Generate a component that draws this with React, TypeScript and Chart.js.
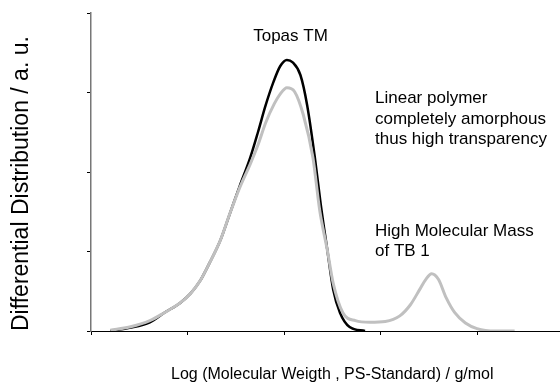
import React, { useEffect, useRef } from "react";
import { Chart, registerables } from "chart.js";

Chart.register(...registerables);

// Topas TM (black) curve
const blackX = [0.20, 0.40, 0.61, 0.76, 0.92, 1.03, 1.13, 1.23, 1.34, 1.44, 1.54, 1.65, 1.73, 1.81, 1.89, 1.96, 2.03, 2.09, 2.17, 2.24, 2.32, 2.38, 2.45, 2.51, 2.58, 2.68, 2.84];
const blackY = [0.00, 0.04, 0.11, 0.23, 0.35, 0.47, 0.63, 0.86, 1.14, 1.48, 1.82, 2.18, 2.50, 2.84, 3.13, 3.33, 3.41, 3.38, 3.22, 2.84, 2.18, 1.60, 1.01, 0.52, 0.23, 0.05, 0.00];

// TB 1 (grey) curve
const greyX = [0.20, 0.40, 0.61, 0.76, 0.92, 1.03, 1.13, 1.23, 1.34, 1.44, 1.54, 1.65, 1.73, 1.81, 1.90, 1.96, 2.03, 2.11, 2.20, 2.30, 2.37, 2.45, 2.51, 2.61, 2.74, 2.89, 3.05, 3.20, 3.31, 3.41, 3.47, 3.53, 3.60, 3.68, 3.77, 3.88, 4.00, 4.19, 4.39];
const greyY = [0.01, 0.05, 0.13, 0.23, 0.35, 0.47, 0.63, 0.86, 1.14, 1.48, 1.80, 2.10, 2.34, 2.62, 2.86, 2.98, 3.06, 3.01, 2.72, 2.18, 1.52, 1.01, 0.60, 0.23, 0.13, 0.11, 0.12, 0.19, 0.33, 0.53, 0.65, 0.72, 0.65, 0.42, 0.23, 0.10, 0.03, 0.00, 0.00];

const xTitle = "Log (Molecular Weigth , PS-Standard) / g/mol";
const yTitle = "Differential Distribution / a. u.";
const noteTopas = ["Topas TM"];
const noteLinear = ["Linear polymer", "completely amorphous", "thus high transparency"];
const noteHigh = ["High Molecular Mass", "of TB 1"];

const FONT = '"Liberation Sans", Arial, Helvetica, sans-serif';

const toPoints = (xs: number[], ys: number[]) => xs.map((x, i) => ({ x, y: ys[i] }));

const notesPlugin = {
  id: "notes",
  afterDraw(chart: any) {
    const ctx = chart.ctx;
    ctx.save();
    ctx.fillStyle = "#000";
    ctx.font = `17px ${FONT}`;
    ctx.textBaseline = "alphabetic";
    ctx.textAlign = "center";
    noteTopas.forEach((t, i) => ctx.fillText(t, 290.5, 41 + i * 20.5));
    ctx.textAlign = "left";
    noteLinear.forEach((t, i) => ctx.fillText(t, 375, 103 + i * 20.5));
    noteHigh.forEach((t, i) => ctx.fillText(t, 375, 236 + i * 20));
    ctx.restore();
  },
};

export default function App() {
  const ref = useRef<HTMLCanvasElement>(null);
  useEffect(() => {
    if (!ref.current) return;
    const chart = new Chart(ref.current, {
      type: "line",
      data: {
        datasets: [
          {
            label: "TB 1",
            data: toPoints(greyX, greyY),
            borderColor: "#c0c0c0",
            borderWidth: 3,
            pointRadius: 0,
            cubicInterpolationMode: "monotone",
            fill: false,
          },
          {
            label: "Topas TM",
            data: toPoints(blackX, blackY),
            borderColor: "#000",
            borderWidth: 2.5,
            pointRadius: 0,
            cubicInterpolationMode: "monotone",
            fill: false,
          },
        ],
      },
      options: {
        responsive: false,
        animation: false,
        layout: { padding: { top: 13, right: 2.5, left: 0, bottom: 0 } },
        plugins: { legend: { display: false }, tooltip: { enabled: false } },
        scales: {
          x: {
            type: "linear",
            min: 0,
            max: 5,
            ticks: { display: false, stepSize: 1 },
            grid: { drawOnChartArea: false, tickLength: 4, color: "#000" },
            border: { color: "#000", width: 1 },
            title: {
              display: true,
              text: xTitle,
              color: "#000",
              font: { family: FONT, size: 16, lineHeight: 1.2 },
              padding: { top: 29.8, bottom: 8 },
            },
          },
          y: {
            type: "linear",
            min: 0,
            max: 4,
            ticks: { display: false, stepSize: 1 },
            grid: { drawOnChartArea: false, tickLength: 4, color: "#000" },
            border: { color: "#777", width: 1.5 },
            title: {
              display: true,
              text: yTitle,
              align: "start",
              color: "#000",
              font: { family: FONT, size: 23, lineHeight: 1.2 },
              padding: { top: 8, bottom: 51.4 },
            },
          },
        },
      },
      plugins: [notesPlugin],
    });
    return () => chart.destroy();
  }, []);
  return (
    <div style={{ position: "absolute", left: 0, top: 0, width: 560, height: 382, overflow: "hidden", background: "#fff" }}>
      <canvas ref={ref} width={576} height={392} style={{ display: "block" }} />
    </div>
  );
}
